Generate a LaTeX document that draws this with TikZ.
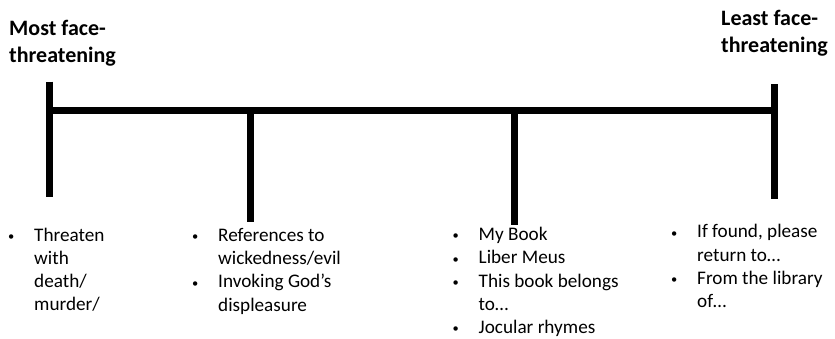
\documentclass[tikz,border=0pt]{standalone}
\usepackage{fontspec}
\setmainfont{Carlito}
\usepackage{graphicx}
\usepackage{tikz}
\newcommand{\itm}{\makebox[26.5pt][l]{\hspace*{0.3pt}\raisebox{0.8pt}{\scalebox{0.65}{\textbullet}}}}
\newcommand{\cnt}{\hspace*{26.5pt}}
\tikzset{
    bar/.style={line width=7pt},
    heading/.style={font=\bfseries\fontsize{22}{27}\selectfont, align=left, inner sep=0pt, anchor=base west},
    items/.style={font=\fontsize{19.2}{23.2}\selectfont, align=left, inner sep=0pt, anchor=base west}
}

\begin{document}
\begin{tikzpicture}[x=1pt, y=-1pt]
            \useasboundingbox (0,0) rectangle (835,338);
            \coordinate (mostTop) at (49.7,81.7);
            \coordinate (mostBot) at (49.7,196.7);
            \coordinate (leastTop) at (774.5,84);
            \coordinate (leastBot) at (774.5,199);
            \coordinate (lineL) at (49.7,110.7);
            \coordinate (lineR) at (774.5,110.7);
            \coordinate (evilTop) at (250.8,110.7);
            \coordinate (evilBot) at (250.8,221.7);
            \coordinate (bookTop) at (514.7,110.7);
            \coordinate (bookBot) at (514.7,225);
            \draw[bar] (mostTop) -- (mostBot);
            \draw[bar] (leastTop) -- (leastBot);
            \draw[bar] (lineL) -- (lineR);
            \draw[bar] (evilTop) -- (evilBot);
            \draw[bar] (bookTop) -- (bookBot);
            % end labels (placed by the baseline of their last line)
            \node[heading] (most) at (9,62) {Most face-\\threatening};
            \node[heading] (least) at (721,52) {Least face-\\threatening};
            % examples under the scale
            \node[items] (threat) at (7.5,310.6) {\itm Threaten\\ \cnt with\\ \cnt death/\\ \cnt murder/};
            \node[items] (evil) at (191.5,311) {\itm References to\\ \cnt wickedness/evil\\ \itm Invoking God’s\\ \cnt displeasure};
            \node[items] (book) at (452,333.5) {\itm My Book\\ \itm Liber Meus\\ \itm This book belongs\\ \cnt to…\\ \itm Jocular rhymes};
            \node[items] (found) at (670.5,307.5) {\itm If found, please\\ \cnt return to…\\ \itm From the library\\ \cnt of…};
        \end{tikzpicture}
\end{document}
